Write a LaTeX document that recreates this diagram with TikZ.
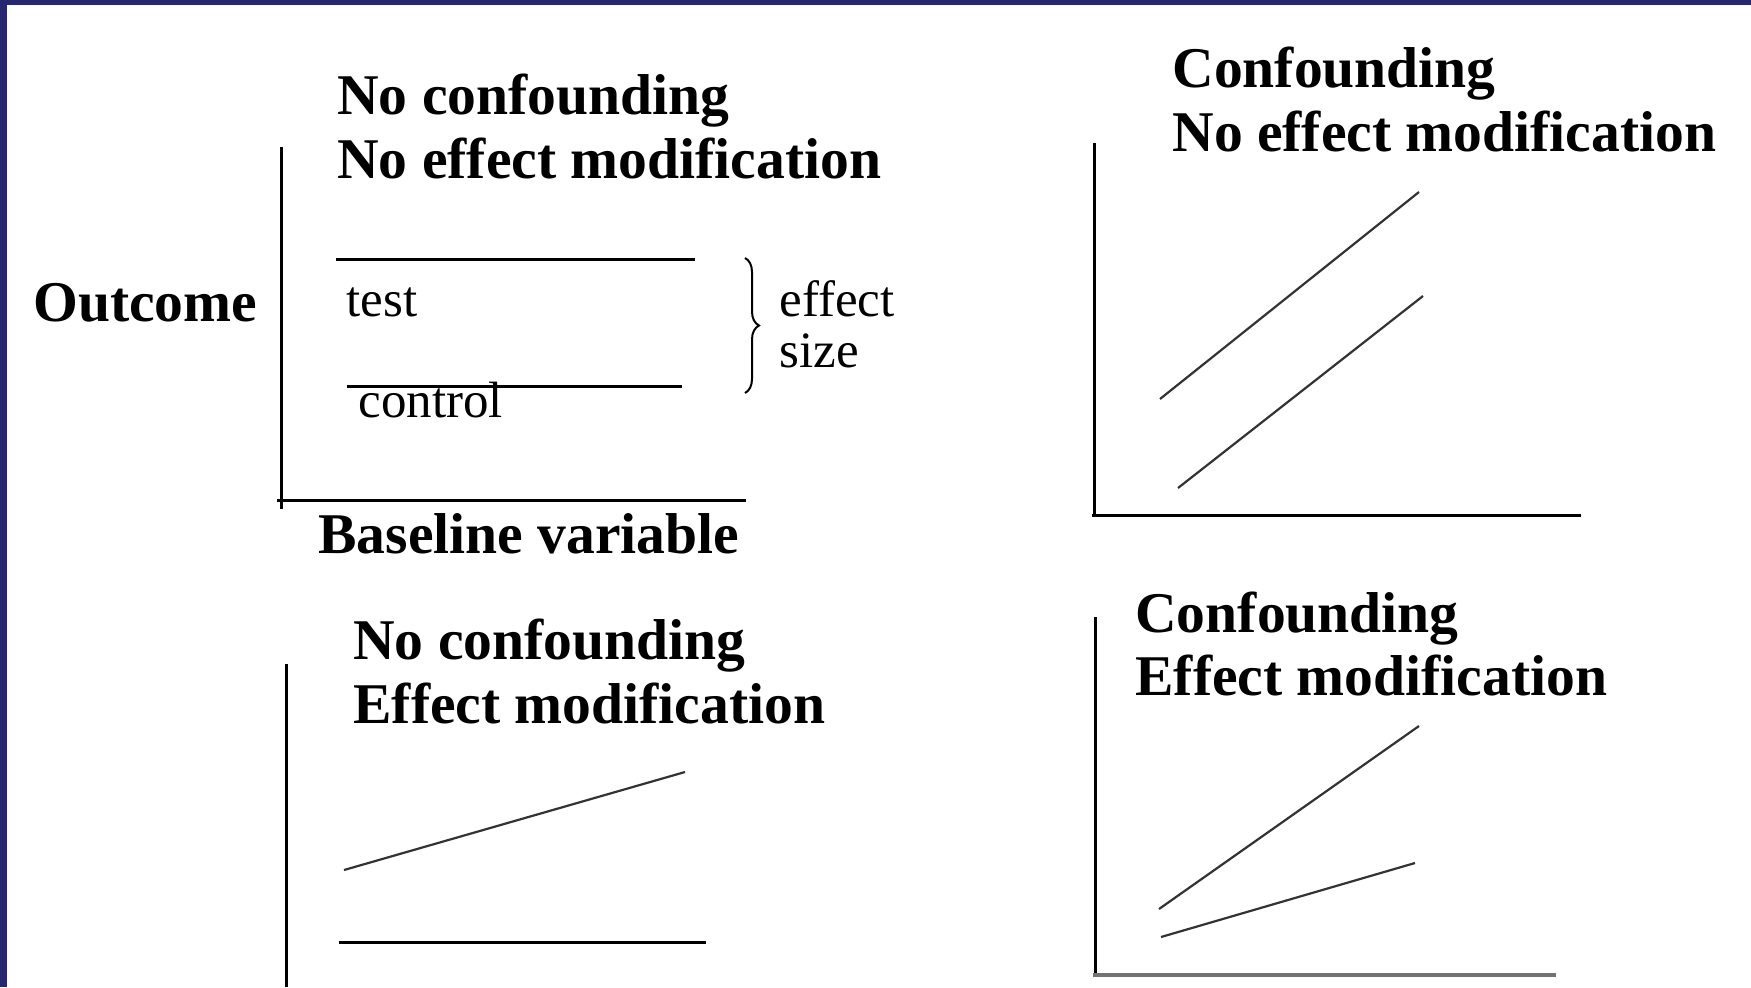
\documentclass[tikz,border=0pt]{standalone}
\usepackage{fontspec}
\setmainfont{Liberation Serif}
\usetikzlibrary{decorations.pathreplacing}
\definecolor{frameblue}{HTML}{27276F}
\tikzset{
  head/.style={anchor=base west, inner sep=0pt, font=\fontsize{28.8}{32}\selectfont\bfseries},
  small/.style={anchor=base west, inner sep=0pt, font=\fontsize{25.5}{28}\selectfont},
  axis/.style={line width=1.5pt, black},
  level/.style={line width=1.5pt, black},
  trend/.style={line width=1.1pt, black!80},
}
\begin{document}
\begin{tikzpicture}[x=0.5pt, y=-0.5pt]
\useasboundingbox (0,0) rectangle (1751,987);
\fill[white] (0,0) rectangle (1751,987);
% frame
\fill[frameblue] (0,0) rectangle (1751,5);
\fill[frameblue] (0,0) rectangle (7,987);

% ---------- top-left panel ----------
\node[head] (tlA) at (337,114) {No confounding};
\node[head] (tlB) at (337,178) {No effect modification};
\node[head] (outc) at (33,321) {Outcome};
\node[head] (basev) at (318,553) {Baseline variable};
\draw[axis] (281,147) -- (281,509);
\draw[axis] (277,500) -- (746,500);
\draw[level] (336,259) -- (695,259);
\draw[level] (347,386) -- (682,386);
\node[small] (testl) at (346,316) {test};
\node[small] (ctrl) at (358,417) {control};
\draw[line width=1pt, decorate, decoration={brace, amplitude=7pt}] (745,258) -- (745,393);
\node[small] (eff) at (779,316) {effect};
\node[small] (siz) at (779,367) {size};

% ---------- top-right panel ----------
\node[head] (trA) at (1172,87) {Confounding};
\node[head] (trB) at (1172,151) {No effect modification};
\draw[axis] (1094,143) -- (1094,516);
\draw[axis] (1092,515) -- (1581,515);
\draw[trend] (1160,399) -- (1419,192);
\draw[trend] (1178,488) -- (1423,296);

% ---------- bottom-left panel ----------
\node[head] (blA) at (353,659) {No confounding};
\node[head] (blB) at (353,723) {Effect modification};
\draw[axis] (286,664) -- (286,987);
\draw[trend] (344,870) -- (685,772);
\draw[level] (339,942) -- (706,942);

% ---------- bottom-right panel ----------
\node[head] (brA) at (1135,632) {Confounding};
\node[head] (brB) at (1135,695) {Effect modification};
\draw[axis] (1095,617) -- (1095,975);
\draw[line width=1.8pt, black!55] (1093,975) -- (1556,975);
\draw[trend] (1159,909) -- (1419,726);
\draw[trend] (1161,937) -- (1415,863);
\end{tikzpicture}
\end{document}
